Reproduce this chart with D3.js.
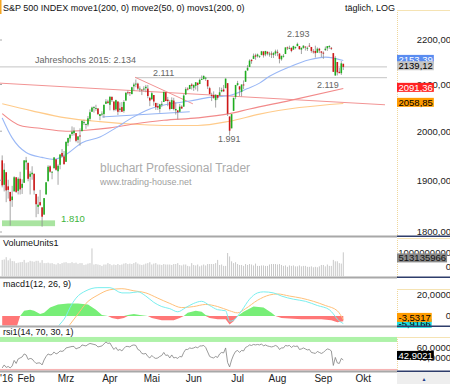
<!DOCTYPE html>
<html><head><meta charset="utf-8">
<script src="https://cdn.jsdelivr.net/npm/d3@7"></script>
<style>body{margin:0;background:#fff}svg{display:block}text{font-family:"Liberation Sans",Arial,Helvetica,sans-serif}</style>
</head><body><svg id="c" width="450" height="384"></svg>
<script>
// ---------- DATA ----------
// daily candles, index 0 = 13 Jan 2016 ... index 171 = 16 Sep 2016
const opens=[1940,1891,1916,1888,1877,1861,1878,1906,1879,1903,1885,1895,1936,1935,1907,1912,1913,1873,1848,1857,1847,1833,1872,1898,1928,1916,1924,1942,1918,1931,1955,1948,
1937,1976,1985,1994,1996,1996,1982,1991,2000,2019,2015,2014,2026,2041,2049,2048,2048,2032,2037,2036,2058,2063,
2056,2073,2063,2046,2063,2045,2051,2043,2065,2083,2083,2079,2096,2100,2102,2091,2089,2089,2092,2091,2071,
2068,2077,2060,2053,2047,2057,2062,2083,2067,2062,2047,2065,2044,2044,2041,2052,2052,2078,2091,2090,2100,
2093,2097,2104,2101,2110,2112,2115,2110,2092,2077,2077,2066,2077,2076,2085,2089,2092,2103,2031,2006,2043,2073,
2099,2096,2084,2100,2106,2131,2139,2155,2157,2165,2163,2163,2166,2174,2167,2173,2168,2169,2166,2169,
2173,2169,2156,2163,2168,2183,2182,2182,2178,2184,2186,2186,2178,2182,2185,2182,2187,2184,2174,2175,2171,2180,2174,
2171,2177,2181,2186,2182,2170,2120,2150,2128,2125,2146];
const highs=[1950,1934,1916,1901,1877,1889,1908,1906,1906,1917,1902,1940,1947,1935,1918,1928,1913,1873,1868,1881,1847,1864,1896,1930,1930,1918,1946,1942,1932,1952,1963,1959,
1978,1986,1993,2010,2008,1996,1990,2006,2022,2024,2016,2032,2046,2052,2053,2056,2049,2036,2042,2056,2068,2067,
2075,2074,2063,2067,2063,2061,2062,2066,2083,2087,2083,2095,2104,2111,2104,2096,2089,2096,2099,2099,2073,
2084,2077,2060,2060,2058,2064,2084,2083,2073,2066,2072,2071,2061,2044,2058,2055,2079,2094,2094,2099,2103,
2100,2105,2104,2113,2120,2120,2117,2110,2095,2082,2085,2079,2077,2094,2093,2099,2113,2103,2031,2036,2071,2099,
2108,2096,2100,2109,2131,2143,2156,2156,2169,2169,2169,2164,2175,2174,2175,2174,2173,2174,2172,2178,
2178,2170,2164,2168,2183,2185,2187,2183,2187,2185,2194,2186,2183,2188,2185,2185,2193,2184,2179,2187,2183,2182,2174,
2174,2185,2186,2188,2184,2170,2163,2150,2137,2152,2146];
const lows=[1886,1878,1857,1864,1812,1848,1878,1875,1872,1872,1873,1895,1921,1898,1872,1901,1872,1828,1834,1850,1810,1833,1872,1898,1915,1902,1924,1919,1891,1922,1946,1932,
1937,1969,1978,1990,1991,1977,1975,1970,2000,2013,2005,2010,2022,2041,2039,2043,2034,2023,2032,2028,2058,2058,
2044,2062,2042,2043,2034,2040,2041,2039,2065,2078,2075,2079,2086,2094,2088,2084,2077,2085,2083,2070,2053,
2066,2054,2045,2045,2039,2051,2062,2064,2053,2044,2047,2044,2035,2025,2041,2047,2052,2078,2087,2090,2089,
2086,2089,2085,2101,2110,2111,2108,2090,2079,2064,2069,2050,2067,2076,2083,2084,2092,2032,1991,2006,2043,2068,
2097,2075,2074,2090,2106,2131,2139,2146,2157,2155,2160,2159,2165,2160,2163,2165,2162,2159,2159,2164,
2163,2147,2153,2160,2168,2177,2179,2172,2178,2179,2186,2178,2168,2180,2176,2175,2185,2171,2169,2160,2171,2170,2161,
2157,2175,2175,2180,2177,2128,2119,2120,2125,2121,2132];
const closes=[1890,1921,1880,1881,1859,1868,1906,1877,1903,1882,1893,1940,1940,1903,1913,1915,1880,1853,1852,1851,1829,1865,1896,1927,1917,1917,1946,1921,1929,1952,1948,1932,
1978,1986,1993,1999,2001,1980,1989,1989,2022,2019,2015,2027,2040,2050,2051,2049,2036,2036,2037,2056,2063,2060,
2073,2066,2045,2066,2041,2048,2041,2062,2082,2082,2081,2094,2100,2102,2091,2091,2088,2091,2095,2075,2065,
2081,2063,2051,2050,2057,2058,2084,2064,2064,2047,2066,2047,2047,2040,2052,2048,2076,2090,2090,2099,2097,
2099,2105,2099,2110,2112,2119,2115,2096,2079,2075,2071,2077,2071,2083,2088,2085,2113,2037,2001,2036,2071,2099,
2103,2089,2100,2098,2130,2137,2153,2152,2164,2162,2167,2164,2174,2165,2175,2169,2169,2167,2170,2174,
2171,2157,2164,2164,2183,2181,2182,2175,2186,2184,2191,2179,2182,2187,2184,2182,2186,2175,2173,2170,2180,2176,2171,
2170,2180,2186,2186,2181,2128,2159,2127,2125,2147,2139];
// volume (VolumeUnits1)
const volumes=[700,720,820,680,760,650,640,560,580,600,610,700,580,600,660,640,620,660,660,580,690,560,560,580,550,560,520,500,560,520,560,590,
600,560,560,600,560,580,530,560,560,480,500,540,560,1200,500,520,500,480,440,500,500,560,
520,470,500,480,520,480,500,540,560,520,540,520,560,600,540,500,480,500,540,560,600,
500,540,560,500,500,480,520,500,500,500,480,520,520,560,480,460,500,500,440,420,560,
480,460,500,420,460,500,460,520,520,520,520,560,700,480,500,440,440,1000,850,640,560,600,
520,480,480,440,520,480,520,500,460,540,440,440,460,460,440,440,500,520,520,520,
500,520,480,440,460,400,460,440,460,420,420,460,420,440,440,400,400,420,380,400,380,420,480,
480,420,500,440,440,700,640,640,560,540,1030].map(v=>v*1e6);
// moving averages: [day index, value]
const ma50=[[0,2028],[5,1986],[12,1956],[20,1946],[26,1942],[32,1952],[40,1976],[49,1988],[57,2007],[65,2028],[74,2047],[84,2058],[94,2064],[104,2072],[114,2076],[123,2091],[129,2103],[134,2118],[144,2139],[154,2155],[162,2161],[171,2153.39]];
const ma200=[[0,2037],[9,2012],[19,2006],[32,2000],[42,2002],[54,2007],[66,2015],[81,2023],[98,2028],[114,2037],[124,2047],[144,2065],[171,2091.36]];
const movs200=[[0,2058],[15,2043],[32,2028],[49,2020],[69,2014],[84,2012],[98,2012],[114,2021],[129,2036],[149,2050],[171,2058.85]];
// drawn trend / level lines
const redTrends=[[[-1.1,2103],[191.9,2056]],[[66.6,2116],[95.6,2058]]];
const blueTrends=[[[50,2030],[94,2041]]];
const levelLines=[{v:2139,from:-1.1,to:192.9},{v:2115,from:66.6,to:192.9}];
const notes=[{t:"Jahreshochs 2015: 2.134",i:16.4,v:2148},{t:"2.111",i:75.6,v:2119},{t:"2.193",i:142.8,v:2207},{t:"2.119",i:157.8,v:2093},{t:"1.991",i:108.2,v:1978}];
const lowBox={i0:-0.1,i1:26.5,v0:1822,v1:1811,label:"1.810",li:29.5,lv:1818};
const mainTicks=[2200,2100,2000,1900,1800];
const mainBoxes=[{v:2153.39,t:"2153,39",bg:"#5a8cf0",fg:"#fff"},{v:2139.12,t:"2139,12",bg:"#c6c6c6",fg:"#000"},{v:2091.36,t:"2091,36",bg:"#ff2222",fg:"#fff"},{v:2058.85,t:"2058,85",bg:"#ff9c00",fg:"#000"}];
// MACD(12,26,9): [day index, value]
const macdLine=[[0,-30],[8,-40],[16,-35],[22,-25],[28,-10],[32,0],[34,8],[37,17],[42,24],[48,27],[54,27],[60,22],[64,22],[68,23],[72,19],[76,13],[80,9],[84,7],[88,4],[92,8],[96,12],[100,14],[104,10],[108,6],[112,5],[114,-5],[116,-4],[120,5],[124,16],[128,22],[131,23],[136,22],[140,19],[146,16],[152,14],[158,10],[164,6],[166,2],[168,-3],[171,-7.2]];
const signalLine=[[0,-25],[8,-33],[16,-36],[24,-30],[30,-18],[34,-8],[38,2],[42,12],[48,20],[54,25],[60,26],[66,24],[72,22],[78,17],[84,12],[90,8],[96,9],[102,11],[108,9],[114,5],[118,3],[122,7],[128,15],[134,20],[138,21],[144,19],[150,17],[156,14],[162,10],[168,5],[171,-3.53]];
const macdHist=[[0,-12],[7,-12],[9,0],[11,5],[14,6],[16,5],[19,2],[21,3],[24,8],[28,11],[33,12],[38,12],[43,11],[47,6],[50,1],[53,0],[55,-2],[58,-3],[61,-2],[63,1],[66,2],[69,1],[73,0],[75,-2],[80,-4],[86,-4],[89,-2],[91,0],[93,3],[97,5],[100,4],[102,1],[104,-2],[108,-3],[112,-3],[114,-8],[116,-5],[118,0],[121,4],[126,9],[131,8],[135,3],[137,0],[140,-2],[150,-3],[160,-3],[165,-4],[168,-6],[171,-5]];
// RSI(14), one value per day
const rsi=[27,33,28,30,27,31,42,36,45,47,49,55,53,44,46,45,40,36,37,37,33,43,50,55,53,54,59,55,57,61,60,62,
67,68,69,70,70,65,67,68,73,72,71,74,76,75,74,73,69,70,71,75,79,76,
77,70,64,68,62,64,61,66,70,70,69,72,73,72,64,62,56,55,56,50,47,
52,48,46,47,50,52,58,52,53,47,53,47,48,46,50,49,58,64,64,67,66,
67,69,67,71,71,72,68,59,50,48,47,50,48,55,58,57,67,38,29,43,53,60,
62,58,62,61,68,70,73,72,74,73,74,73,75,71,73,71,70,69,70,72,
70,64,67,67,72,71,72,68,71,70,71,64,65,67,65,63,64,58,57,56,60,58,56,
58,62,65,64,61,32,48,37,36,46,42.9];
const rsiZones=[{from:79,to:89,color:"#aef2a8"},{from:20,to:25,color:"#f7b4b4"}];
const monthLabels=["'16","Feb","Mrz","Apr","Mai","Jun","Jul","Aug","Sep","Okt"];
const monthIdx=[2.2,12,32,54,75,96,118,138,161,181];

// ---------- CHART ----------
const svg=d3.select("#c");
const PR=397;
svg.append("rect").attr("width",450).attr("height",384).attr("fill","#fff");
const x=d3.scaleLinear().domain([0,171]).range([2.2,343.3]);
const yM=d3.scaleLog().domain([1800,2200]).range([232,40]);
const yV=d3.scaleLinear().domain([0,1e9]).range([276,253]);
const yD=d3.scaleLinear().domain([0,20]).range([316,295]);
const yR=d3.scaleLinear().domain([0,100]).range([381.45,331.45]);
const defs=svg.append("defs");
function clip(id,y0,y1){defs.append("clipPath").attr("id",id).append("rect").attr("x",0).attr("y",y0).attr("width",PR).attr("height",y1-y0);return svg.append("g").attr("clip-path",`url(#${id})`);}

// title
svg.append("rect").attr("x",0).attr("y",0).attr("width",1.5).attr("height",14).attr("fill","#f5a623");
svg.append("text").attr("x",3).attr("y",11).attr("font-size",9).attr("fill","#111").text("S&P 500 INDEX move1(200, 0) move2(50, 0) movs1(200, 0)");
svg.append("text").attr("x",345).attr("y",11).attr("font-size",9).attr("fill","#111").text("täglich, LOG");

// main panel
const gM=clip("cm",12,235);
gM.append("text").attr("x",100).attr("y",172).attr("font-size",12).attr("fill","#ababab").text("bluchart Professional Trader");
gM.append("text").attr("x",100).attr("y",184.5).attr("font-size",9).attr("fill","#a0a0a0").text("www.trading-house.net");
levelLines.forEach(l=>gM.append("line").attr("x1",x(l.from)).attr("x2",x(l.to)).attr("y1",yM(l.v)).attr("y2",yM(l.v)).attr("stroke","#c4c4c4").attr("stroke-width",1));
const lineM=d3.line().x(d=>x(d[0])).y(d=>yM(d[1]));
redTrends.forEach(t=>gM.append("path").attr("d",lineM(t)).attr("fill","none").attr("stroke","#f29494").attr("stroke-width",1));
blueTrends.forEach(t=>gM.append("path").attr("d",lineM(t)).attr("fill","none").attr("stroke","#94b4f4").attr("stroke-width",1));
const smooth=d3.line().x(d=>x(d[0])).y(d=>yM(d[1])).curve(d3.curveMonotoneX);
gM.append("path").attr("d",smooth(movs200)).attr("fill","none").attr("stroke","#ffcb8a").attr("stroke-width",1.1);
gM.append("path").attr("d",smooth(ma200)).attr("fill","none").attr("stroke","#f28a8a").attr("stroke-width",1.1);
gM.append("path").attr("d",smooth(ma50)).attr("fill","none").attr("stroke","#9ab8f6").attr("stroke-width",1.1);
gM.append("rect").attr("x",x(lowBox.i0)).attr("width",x(lowBox.i1)-x(lowBox.i0)).attr("y",yM(lowBox.v0)).attr("height",yM(lowBox.v1)-yM(lowBox.v0)).attr("fill","#a9e4a0");
gM.append("text").attr("x",x(lowBox.li)).attr("y",yM(lowBox.lv)).attr("font-size",9.5).attr("fill","#3cb43c").text(lowBox.label);
notes.forEach(n=>gM.append("text").attr("x",x(n.i)).attr("y",yM(n.v)).attr("font-size",9).attr("fill","#666").text(n.t));
// candles
closes.forEach((c,i)=>{
  const o=opens[i],h=highs[i],l=lows[i];
  gM.append("line").attr("x1",x(i)).attr("x2",x(i)).attr("y1",yM(h)).attr("y2",yM(l)).attr("stroke","#8e8e8e").attr("stroke-width",0.8);
  const t=yM(Math.max(o,c)),b=yM(Math.min(o,c));
  gM.append("rect").attr("x",x(i)-0.8).attr("width",1.6).attr("y",t).attr("height",Math.max(0.9,b-t)).attr("fill",c>=o?"#1fae1f":"#d01818");
});
mainTicks.forEach(v=>svg.append("line").attr("x1",0).attr("x2",2).attr("y1",yM(v)).attr("y2",yM(v)).attr("stroke","#aaa"));

// right axis frames
function frame(y0,y1){
  svg.append("line").attr("x1",PR+0.5).attr("x2",PR+0.5).attr("y1",y0).attr("y2",y1).attr("stroke","#efd79b").attr("stroke-dasharray","1,1");
  svg.append("line").attr("x1",PR).attr("x2",450).attr("y1",y0+0.5).attr("y2",y0+0.5).attr("stroke","#f5e3b3");
}
frame(10,236);frame(238,277);frame(289,326);frame(337,371);
function sep(y){svg.append("rect").attr("x",0).attr("y",y).attr("width",PR).attr("height",2).attr("fill","#a8a8a8");svg.append("rect").attr("x",PR).attr("y",y).attr("width",450-PR).attr("height",1.5).attr("fill","#2e3d6b");}

function rlabel(yv,t){svg.append("text").attr("x",451).attr("y",yv).attr("dy","0.35em").attr("text-anchor","end").attr("font-size",9.5).attr("fill","#222").text(t);}
function vbox(yv,t,bg,fg){
  const tx=svg.append("text").attr("x",PR+1.5).attr("y",yv).attr("dy","0.35em").attr("font-size",9.5).attr("fill",fg).text(t);
  const w=tx.node().getComputedTextLength()+2.5;
  svg.insert("rect",()=>tx.node()).attr("x",PR).attr("y",yv-4.6).attr("width",w).attr("height",9).attr("fill",bg);
}
const fmt2=v=>d3.format(".2f")(v).replace(".",",");
mainTicks.forEach(v=>rlabel(yM(v),fmt2(v)));
mainBoxes.forEach(b=>vbox(yM(b.v)-1,b.t,b.bg,b.fg));

// volume panel
const gV=clip("cv",238,276.5);
gV.selectAll("rect.v").data(volumes).enter().append("rect").attr("x",(d,i)=>x(i)-0.5).attr("width",1).attr("y",d=>yV(d)).attr("height",d=>yV(0)-yV(d)).attr("fill","#c9c9c9");
svg.append("text").attr("x",3).attr("y",246).attr("font-size",9).attr("fill","#111").text("VolumeUnits1");
rlabel(yV(1e9),"1000000000");
rlabel(266.5,"0");
vbox(258,"513135966","#8a8a8a","#111");

// MACD panel
const gD=clip("cd",278,325.5);
const areaP=d3.area().x(d=>x(d[0])).y0(yD(0)).y1(d=>yD(Math.max(0,d[1])));
const areaN=d3.area().x(d=>x(d[0])).y0(yD(0)).y1(d=>yD(Math.min(0,d[1])));
gD.append("path").attr("d",areaP(macdHist)).attr("fill","#77ee77");
gD.append("path").attr("d",areaN(macdHist)).attr("fill","#ff7777");
const lineD=d3.line().x(d=>x(d[0])).y(d=>yD(d[1])).curve(d3.curveMonotoneX);
gD.append("path").attr("d",lineD(signalLine)).attr("fill","none").attr("stroke","#ffc07a").attr("stroke-width",1);
gD.append("path").attr("d",lineD(macdLine)).attr("fill","none").attr("stroke","#7aeeee").attr("stroke-width",1);
svg.append("text").attr("x",3).attr("y",287).attr("font-size",9).attr("fill","#111").text("macd1(12, 26, 9)");
rlabel(yD(20),"20,0000");
rlabel(yD(0),"0");

// RSI panel
const gR=clip("cr",327.5,370.5);
rsiZones.forEach(z=>gR.append("rect").attr("x",0).attr("width",PR).attr("y",yR(z.to)).attr("height",yR(z.from)-yR(z.to)).attr("fill",z.color));
gR.append("path").attr("d",d3.line().x((d,i)=>x(i)).y(d=>yR(d))(rsi)).attr("fill","none").attr("stroke","#808080").attr("stroke-width",0.8);
svg.append("text").attr("x",3).attr("y",335).attr("font-size",9).attr("fill","#111").text("rsi1(14, 70, 30, 1)");
svg.append("text").attr("x",451).attr("y",yR(60)).attr("text-anchor","end").attr("font-size",9.5).attr("fill","#222").text("60,0000");
svg.append("text").attr("x",451).attr("y",yR(40)).attr("text-anchor","end").attr("font-size",9.5).attr("fill","#222").text("40,0000");
vbox(yR(42.9)-4.5,"42,9021","#000","#fff");

// MACD value boxes (after RSI frame so they sit on top like the reference)
vbox(323.5,"-5,9166","#22dddd","#000");
vbox(317.5,"-3,5317","#ff9c00","#000");
// separators
sep(235.5);sep(276.5);sep(325.5);sep(370.5);

// time axis
svg.append("rect").attr("x",PR).attr("y",372).attr("width",450-PR).attr("height",12).attr("fill","#eeeeee");
svg.append("text").attr("x",424).attr("y",381).attr("font-size",5).attr("fill","#233d8a").attr("text-anchor","middle").text("▲");
monthLabels.forEach((m,k)=>svg.append("text").attr("x",x(monthIdx[k])).attr("y",382).attr("text-anchor","middle").attr("font-size",10).attr("fill","#222").text(m));
</script></body></html>
